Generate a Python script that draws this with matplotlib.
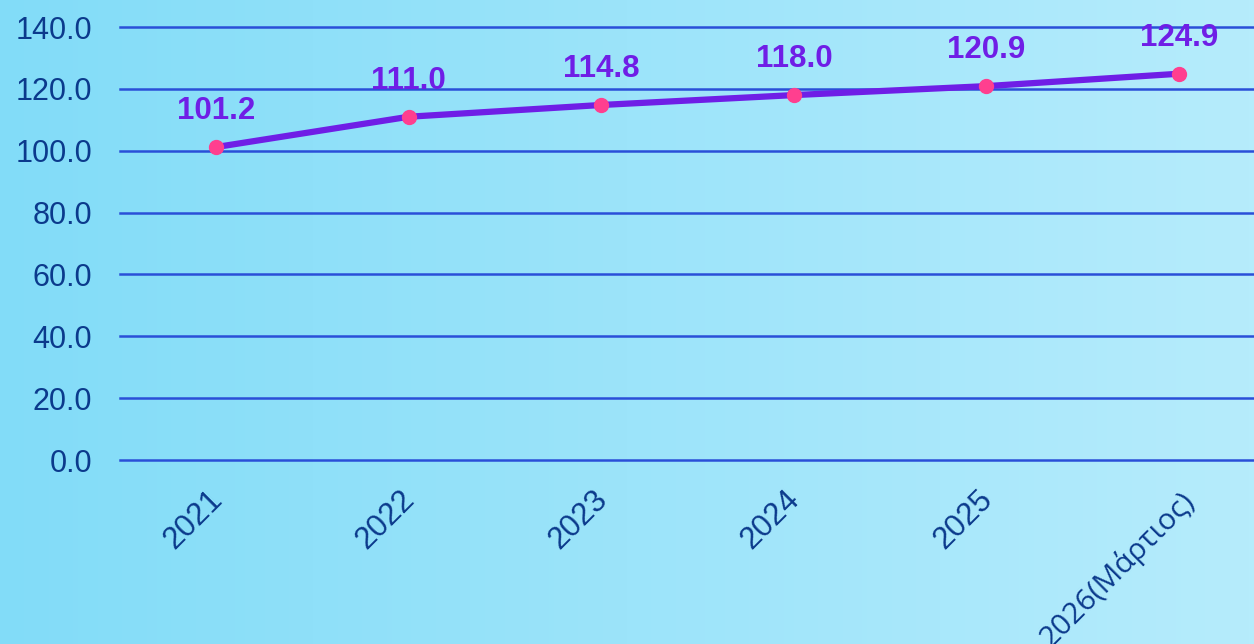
import numpy as np
import matplotlib.pyplot as plt
from matplotlib.colors import LinearSegmentedColormap
from matplotlib.transforms import ScaledTranslation

years = ["2021", "2022", "2023", "2024", "2025", "2026(Μάρτιος)"]
values = [101.2, 111.0, 114.8, 118.0, 120.9, 124.9]
yticks = [0, 20, 40, 60, 80, 100, 120, 140]

plt.rcParams['font.family'] = ['Liberation Sans', 'DejaVu Sans']

fig = plt.figure(figsize=(12.54, 6.44), dpi=100)

# background gradient
bg = fig.add_axes([0, 0, 1, 1], zorder=0)
cmap = LinearSegmentedColormap.from_list("bg", ["#82dcf8", "#b6ecfc"])
bg.imshow(np.linspace(0, 1, 256).reshape(1, -1), aspect="auto", cmap=cmap,
          extent=[0, 1, 0, 1])
bg.axis("off")

ax = fig.add_axes([0.0957, 0.2857, 0.9043, 0.6723], zorder=1)
ax.patch.set_alpha(0)
x = np.arange(len(years))

ax.plot(x, values, color="#6f1ee6", lw=4.5, zorder=3, solid_capstyle="round")
ax.plot(x, values, "o", color="#ff3f8f", markersize=10, zorder=4)
for xi, v in zip(x, values):
    ax.annotate(f"{v:.1f}", (xi, v), xytext=(0, 26), textcoords="offset points",
                ha="center", va="center", fontsize=22.5, fontweight="bold",
                color="#6f1ee6")

ax.set_ylim(0, 140)
ax.set_xlim(-0.5, 5.39)
ax.set_yticks(yticks)
ax.set_yticklabels([f"{t:.1f}" for t in yticks])
ax.yaxis.grid(True, color="#2a4fd8", lw=1.8)
ax.set_axisbelow(True)
for gl in ax.get_ygridlines():
    gl.set_clip_on(False)
for s in ax.spines.values():
    s.set_visible(False)
ax.tick_params(axis="y", length=0, pad=20, labelsize=22, labelcolor="#0b3a8c")
ax.tick_params(axis="x", length=0, pad=18, labelsize=22.5, labelcolor="#0b3a8c")
ax.set_xticks(x)
ax.set_xticklabels(years, rotation=45, ha="right", rotation_mode="anchor")
shift = ScaledTranslation(-0.09, 0.01, fig.dpi_scale_trans)
for lab in ax.get_xticklabels()[:-1]:
    lab.set_transform(lab.get_transform() + shift)
ax.get_xticklabels()[-1].set_family(["Open Sans", "DejaVu Sans"])
ax.get_xticklabels()[-1].set_fontsize(21.5)

fig.savefig("out.png", dpi=100)
